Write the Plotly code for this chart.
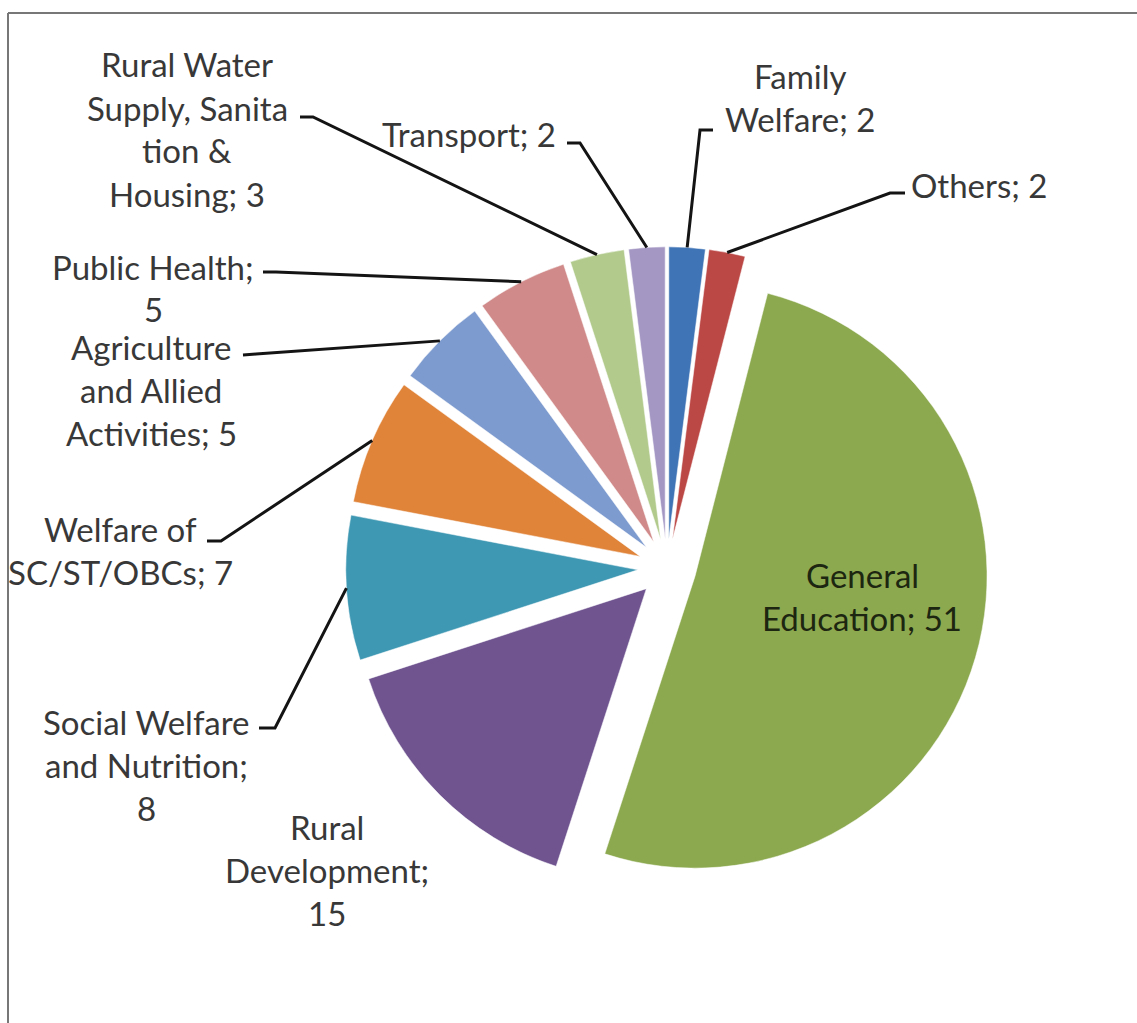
import math
import plotly.graph_objects as go

# ---- data -------------------------------------------------------------
categories = [
    "Family Welfare",
    "Others",
    "General Education",
    "Rural Development",
    "Social Welfare and Nutrition",
    "Welfare of SC/ST/OBCs",
    "Agriculture and Allied Activities",
    "Public Health",
    "Rural Water Supply, Sanitation & Housing",
    "Transport",
]
values = [2, 2, 51, 15, 8, 7, 5, 5, 3, 2]

# wrapped label text; {v} is replaced by the slice value
label_templates = [
    "Family<br>Welfare; {v}",
    "Others; {v}",
    "General<br>Education; {v}",
    "Rural<br>Development;<br>{v}",
    "Social Welfare<br>and Nutrition;<br>{v}",
    "Welfare of<br>SC/ST/OBCs; {v}",
    "Agriculture<br>and Allied<br>Activities; {v}",
    "Public Health;<br>{v}",
    "Rural Water<br>Supply, Sanita<br>tion &<br>Housing; {v}",
    "Transport; {v}",
]

colors = [
    "#3F74B6", "#BC4846", "#8CA94F", "#6F5490", "#3F98B3",
    "#E0843A", "#7E9BCF", "#D08A89", "#B2CB8D", "#A497C4",
]

# ---- layout constants (pixels) ---------------------------------------
W, H = 1137, 1023
CX, CY = 667, 568          # pie centre
R = 292                    # pie radius
PULL = 0.10                # explosion of every slice, fraction of radius
FONT_SIZE = 33
LINE_PITCH = 43

# label block centres
label_pos = [
    (800, 97), (979, 185), (862, 596), (327, 870), (146, 765),
    (120, 550), (151, 390), (153, 288), (187, 129), (469, 134),
]
# leader lines: text-side start point and elbow (None -> no leader)
leaders = [
    ((713, 130), (700, 130)),
    ((905, 193), (890, 193)),
    None,
    None,
    ((259, 728), (275, 728)),
    ((207, 541), (221, 541)),
    ((243, 355), (256, 354)),
    ((263, 272), (276, 272)),
    ((300, 117), (313, 117)),
    ((567, 143), (580, 143)),
]


def px(x, y):
    """pixel position -> paper coordinates"""
    return x / W, 1 - y / H


half = R * (1 + PULL)
dom_x = [(CX - half) / W, (CX + half) / W]
dom_y = [1 - (CY + half) / H, 1 - (CY - half) / H]

fig = go.Figure(
    go.Pie(
        labels=categories,
        values=values,
        sort=False,
        direction="clockwise",
        rotation=0,
        pull=[PULL] * len(values),
        marker=dict(colors=colors, line=dict(color="white", width=0.5)),
        textinfo="none",
        hoverinfo="label+value",
        domain=dict(x=dom_x, y=dom_y),
    )
)

total = sum(values)
shapes = []
annotations = []
cum = 0.0
for i, v in enumerate(values):
    theta = math.radians(360.0 * (cum + v / 2) / total)
    cum += v
    # outer-arc midpoint of the exploded slice
    ox = CX + half * math.sin(theta)
    oy = CY - half * math.cos(theta)

    lines = label_templates[i].format(v=v).split("<br>")
    lx, ly = label_pos[i]
    inside = categories[i] == "General Education"
    n = len(lines)
    for k, line in enumerate(lines):
        yk = ly + (k - (n - 1) / 2) * LINE_PITCH
        ax, ay = px(lx, yk)
        annotations.append(
            dict(
                x=ax, y=ay, xref="paper", yref="paper",
                text=line, showarrow=False,
                xanchor="center", yanchor="middle", align="center",
                font=dict(family="Lato, Open Sans, sans-serif", size=FONT_SIZE,
                          color="#1c2610" if inside else "#383838"),
            )
        )

    if leaders[i] is not None:
        (sx, sy), (ex, ey) = leaders[i]
        pts = [px(sx, sy), px(ex, ey), px(ox, oy)]
        path = "M {} {} L {} {} L {} {}".format(
            pts[0][0], pts[0][1], pts[1][0], pts[1][1], pts[2][0], pts[2][1])
        shapes.append(
            dict(type="path", xref="paper", yref="paper", path=path,
                 line=dict(color="#141414", width=3), layer="above")
        )

# chart frame (top and left edges)
frame_col = "#777777"
shapes.append(dict(type="line", xref="paper", yref="paper",
                   x0=px(8, 13)[0], y0=px(8, 13)[1], x1=1.0, y1=px(8, 13)[1],
                   line=dict(color=frame_col, width=2)))
shapes.append(dict(type="line", xref="paper", yref="paper",
                   x0=px(8, 13)[0], y0=px(8, 13)[1], x1=px(8, 13)[0], y1=0.0,
                   line=dict(color=frame_col, width=2)))

fig.update_layout(
    width=W, height=H,
    margin=dict(l=0, r=0, t=0, b=0),
    paper_bgcolor="white",
    plot_bgcolor="white",
    showlegend=False,
    shapes=shapes,
    annotations=annotations,
)

fig.write_html("out.html")
